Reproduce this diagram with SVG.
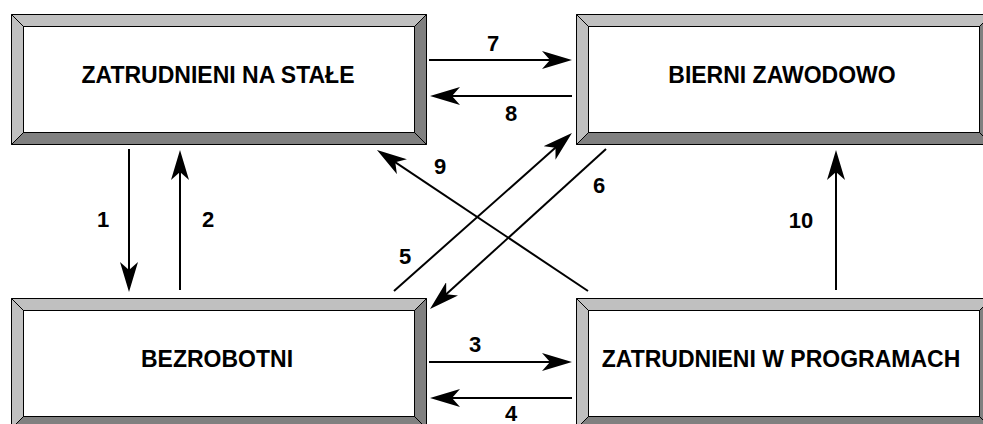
<svg xmlns="http://www.w3.org/2000/svg" width="983" height="424" viewBox="0 0 983 424">
<defs>
<style>
.lt{fill:#c0c0c0;stroke:#000;stroke-width:1}
.dk{fill:#808080;stroke:#000;stroke-width:1}
.in{fill:#fff;stroke:#000;stroke-width:1}
.bt{font-family:"Liberation Sans",Arial,sans-serif;font-weight:bold;font-size:23px;fill:#000;text-anchor:middle}
.lb{font-family:"Liberation Sans",Arial,sans-serif;font-weight:bold;font-size:22px;fill:#000;text-anchor:middle}
.cn{fill:none;stroke:#000;stroke-width:2;marker-end:url(#ah)}
</style>
<marker id="ah" viewBox="0 0 30 18" markerUnits="userSpaceOnUse" markerWidth="30" markerHeight="18" refX="10" refY="9" orient="auto">
<path d="M0,0 L30,9 L0,18 L8,9 Z" fill="#000"/>
</marker>
<g id="bevel">
<polygon class="lt" points="0,0 415,0 403,12 12,12"/>
<polygon class="lt" points="0,0 12,12 12,118 0,130"/>
<polygon class="dk" points="0,130 12,118 403,118 415,130"/>
<polygon class="dk" points="415,0 415,130 403,118 403,12"/>
<rect class="in" x="12" y="12" width="391" height="106"/>
</g>
</defs>
<rect width="983" height="424" fill="#fff"/>
<g id="node-stale">
<use href="#bevel" transform="translate(11.5,14.5)"/>
<text class="bt" x="218" y="83">ZATRUDNIENI NA STAŁE</text>
</g>
<g id="node-bierni">
<use href="#bevel" transform="translate(576.5,14.5)"/>
<text class="bt" x="782" y="83">BIERNI ZAWODOWO</text>
</g>
<g id="node-bezrobotni">
<use href="#bevel" transform="translate(11.5,298.5)"/>
<text class="bt" x="217" y="367">BEZROBOTNI</text>
</g>
<g id="node-programy">
<use href="#bevel" transform="translate(576.5,298.5)"/>
<text class="bt" x="781" y="367">ZATRUDNIENI W PROGRAMACH</text>
</g>
<g id="connectors">
<path class="cn" d="M429,60 L552,60"/>
<path class="cn" d="M572,96 L450,96"/>
<path class="cn" d="M429,362 L552,362"/>
<path class="cn" d="M572,398 L450,398"/>
<path class="cn" d="M129,149 L129,272"/>
<path class="cn" d="M180,290 L180,170"/>
<path class="cn" d="M836,290 L836,170"/>
<path class="cn" d="M588,291 L393.6,161.1"/>
<path class="cn" d="M394,291 L557,146.3"/>
<path class="cn" d="M606,149 L444.8,295.5"/>
<text class="lb" x="103" y="227">1</text>
<text class="lb" x="208" y="227">2</text>
<text class="lb" x="475" y="352">3</text>
<text class="lb" x="511" y="421">4</text>
<text class="lb" x="405" y="264">5</text>
<text class="lb" x="599" y="193">6</text>
<text class="lb" x="493" y="51">7</text>
<text class="lb" x="511" y="121">8</text>
<text class="lb" x="440" y="174">9</text>
<text class="lb" x="801" y="228">10</text>
</g>
</svg>
